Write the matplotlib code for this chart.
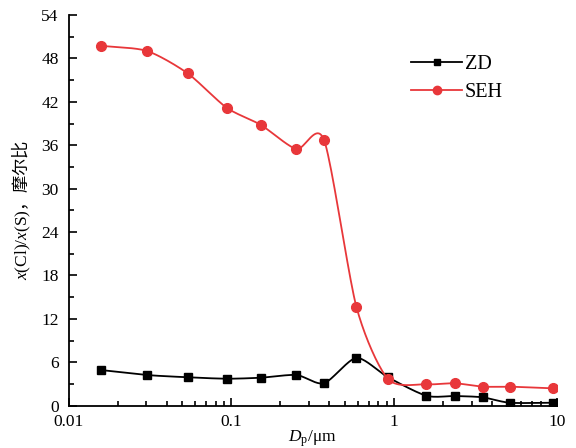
import numpy as np
import matplotlib
matplotlib.use("Agg")
import matplotlib.pyplot as plt
from matplotlib.ticker import FixedLocator, MultipleLocator, LogLocator, NullFormatter

# ---- data ----
dp = [0.0158, 0.0303, 0.0539, 0.0935, 0.152, 0.251, 0.371, 0.586, 0.916,
      1.575, 2.36, 3.49, 5.13, 9.42]
zd = [4.93, 4.24, 3.93, 3.73, 3.87, 4.24, 3.10, 6.60, 3.93, 1.38, 1.34, 1.16, 0.41, 0.41]
seh = [49.75, 49.03, 45.94, 41.19, 38.80, 35.48, 36.72, 13.68, 3.69, 2.96, 3.10,
       2.63, 2.63, 2.40]
labels = ["ZD", "SEH"]
yticks = [0, 6, 12, 18, 24, 30, 36, 42, 48, 54]

plt.rcParams['font.family'] = ['Liberation Serif', 'Noto Sans CJK SC']
plt.rcParams['mathtext.fontset'] = 'custom'
plt.rcParams['mathtext.rm'] = 'Liberation Serif'
plt.rcParams['mathtext.it'] = 'Liberation Serif:italic'
plt.rcParams['mathtext.sf'] = 'Noto Sans CJK SC'


def smooth(x, y, n=20, k=0.38):
    # cardinal spline through the points in (log x, y), for the drawn line only
    lx = np.log10(x)
    y = np.asarray(y, float)
    P = np.column_stack([lx, y])
    P = np.vstack([2 * P[0] - P[1], P, 2 * P[-1] - P[-2]])
    out = []
    t = np.linspace(0, 1, n, endpoint=False)[:, None]
    h00 = 2 * t ** 3 - 3 * t ** 2 + 1
    h10 = t ** 3 - 2 * t ** 2 + t
    h01 = -2 * t ** 3 + 3 * t ** 2
    h11 = t ** 3 - t ** 2
    for i in range(1, len(P) - 2):
        p0, p1, p2, p3 = P[i - 1], P[i], P[i + 1], P[i + 2]
        m1 = k * (p2 - p0)
        m2 = k * (p3 - p1)
        out.append(h00 * p1 + h10 * m1 + h01 * p2 + h11 * m2)
    out.append(P[-2][None, :])
    out = np.vstack(out)
    return 10 ** out[:, 0], out[:, 1]


fig = plt.figure(figsize=(5.76, 4.48), dpi=100)
ax = fig.add_axes([68.5 / 576, 42.3 / 448, 488.5 / 576, 390.7 / 448])

for vals, col, mk, ms, lab in [(zd, 'black', 's', 6, labels[0]),
                               (seh, '#e8373a', 'o', 7, labels[1])]:
    sx, sy = smooth(dp, vals)
    ax.plot(sx, sy, color=col, lw=1.3)
    ax.plot(dp, vals, linestyle='none', marker=mk, ms=ms, color=col)
    ax.plot([], [], color=col, lw=1.3, marker=mk, ms=ms - 1, label=lab)

ax.set_xscale('log')
ax.set_xlim(0.01, 10)
ax.set_ylim(0, 54)
ax.yaxis.set_major_locator(FixedLocator(yticks))
ax.yaxis.set_minor_locator(MultipleLocator(3))
ax.xaxis.set_major_locator(LogLocator(base=10))
ax.xaxis.set_minor_locator(LogLocator(base=10, subs=np.arange(2, 10)))
ax.xaxis.set_minor_formatter(NullFormatter())
ax.set_xticks([0.01, 0.1, 1, 10])
ax.set_xticklabels(["0.01", "0.1", "1", "10"])

for s in ['top', 'right']:
    ax.spines[s].set_visible(False)
for s in ['left', 'bottom']:
    ax.spines[s].set_linewidth(1.3)

ax.tick_params(which='both', direction='in', width=1.2, labelsize=12.5, color='black')
ax.tick_params(which='major', length=6)
ax.tick_params(which='minor', length=3.5)
ax.tick_params(axis='x', pad=6)
ax.tick_params(axis='y', pad=7)

ax.set_xlabel(r"$D_\mathrm{p}/\mathrm{\mu m}$", fontsize=12.5, labelpad=-1)
ax.set_ylabel(r"$x\mathrm{(Cl)/}x\mathrm{(S)}\mathsf{，摩尔比}$", fontsize=12.5, labelpad=6)

ax.legend(loc='upper left', bbox_to_anchor=(0.665, 0.945), frameon=False,
          fontsize=14.5, handlelength=2.5, handletextpad=0.15, labelspacing=0.45)

fig.savefig("out.png", dpi=100)
